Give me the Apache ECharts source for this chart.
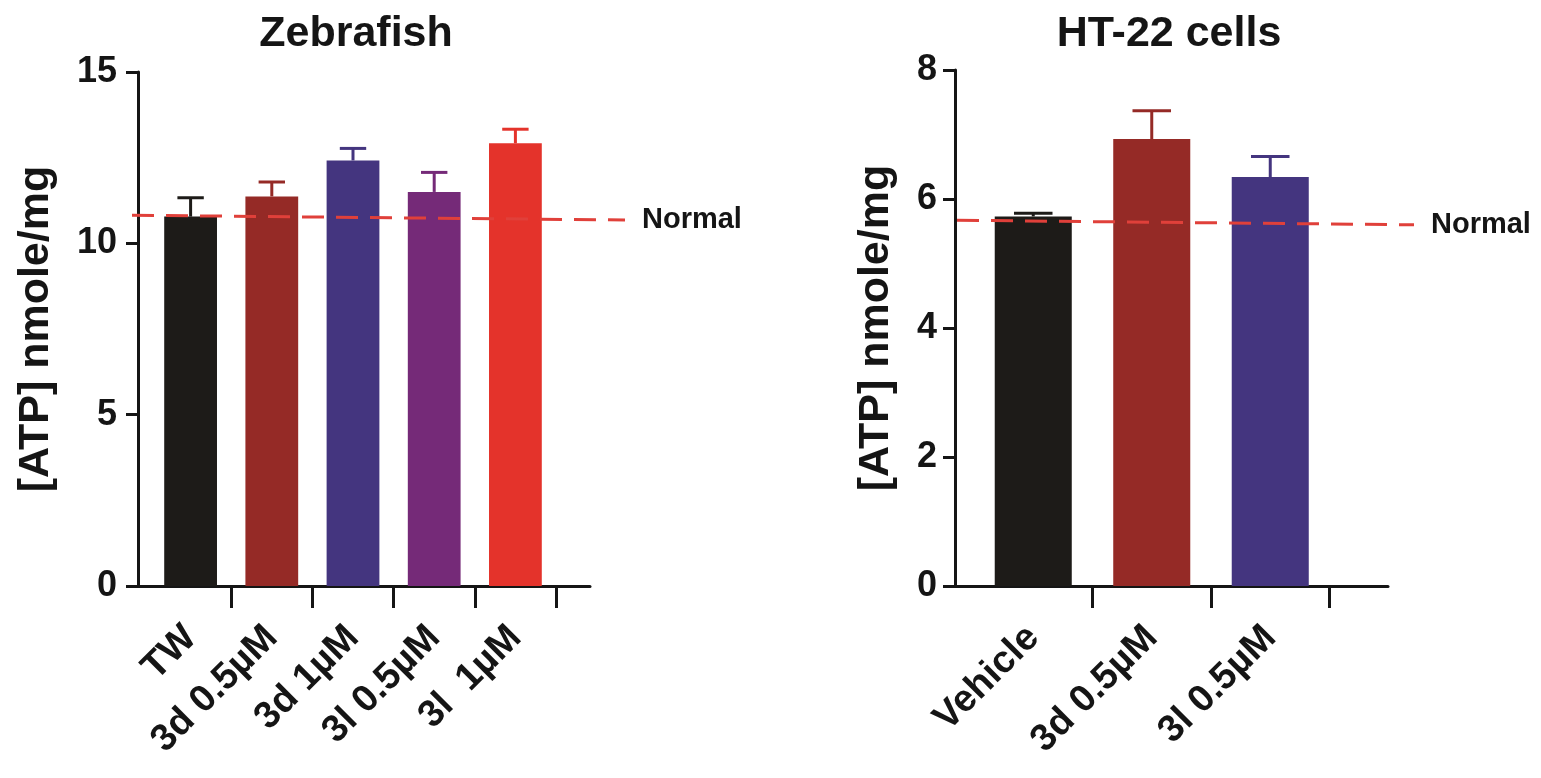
<!DOCTYPE html>
<html>
<head>
<meta charset="utf-8">
<script src="https://cdn.jsdelivr.net/npm/echarts@6/dist/echarts.min.js"></script>
<style>
html,body{margin:0;padding:0;background:#fff;}
#chart{width:1541px;height:778px;}
</style>
</head>
<body>
<div id="chart"></div>
<script>
// ---- data ----
const zfCategories = ['TW', '3d 0.5µM', '3d 1µM', '3l 0.5µM', '3l  1µM'];
const zfMeans = [10.78, 11.37, 12.42, 11.50, 12.92];
const zfSem = [0.55, 0.42, 0.35, 0.57, 0.41];
const zfNormal = [10.82, 10.68];
const zfTicks = [0, 5, 10, 15];

const htCategories = ['Vehicle', '3d 0.5µM', '3l 0.5µM'];
const htMeans = [5.73, 6.93, 6.34];
const htSem = [0.05, 0.44, 0.32];
const htNormal = [5.67, 5.60];
const htTicks = [0, 2, 4, 6, 8];

const zfColors = ['#1d1b18', '#952a26', '#44357f', '#752a78', '#e4332b'];
const htColors = ['#1d1b18', '#952a26', '#44357f'];

const FONT = '"Liberation Sans", Arial, Helvetica, sans-serif';
const INK = '#151515';
const NORMAL_RED = '#e0403a';

function errRender(params, api) {
  const x = api.value(0), m = api.value(1), e = api.value(2);
  const p0 = api.coord([x, m]);
  const p1 = api.coord([x, m + e]);
  const cap = api.size([1, 0])[0] * 0.65 * 0.5;
  const style = { stroke: api.visual('color'), lineWidth: 3 };
  return {
    type: 'group',
    children: [
      { type: 'line', shape: { x1: p0[0], y1: p0[1], x2: p1[0], y2: p1[1] }, style: style },
      { type: 'line', shape: { x1: p1[0] - cap / 2, y1: p1[1], x2: p1[0] + cap / 2, y2: p1[1] }, style: style }
    ]
  };
}

function panel(cfg) {
  const g0 = cfg.gridBase;
  const grids = [
    { left: cfg.catLeft, top: cfg.top, width: cfg.catWidth, height: cfg.height },
    { left: cfg.axisX, top: cfg.top, width: cfg.baseEnd - cfg.axisX, height: cfg.height },
    { left: cfg.normStart, top: cfg.top, width: cfg.normEnd - cfg.normStart, height: cfg.height }
  ];
  const xAxes = [
    {
      gridIndex: g0, type: 'category', data: cfg.categories,
      axisLine: { show: false },
      axisTick: { show: true, length: 22, interval: function (i) { return i > 0; }, lineStyle: { width: 3, color: INK } },
      axisLabel: { rotate: 45, margin: 46, fontSize: 38, fontWeight: 'bold', color: INK, fontFamily: FONT, interval: 0 },
      splitLine: { show: false }
    },
    {
      gridIndex: g0 + 1, type: 'value', min: 0, max: 1,
      axisLine: { show: true, lineStyle: { width: 3, color: INK } },
      axisTick: { show: false }, axisLabel: { show: false }, splitLine: { show: false }
    },
    { gridIndex: g0 + 2, type: 'value', min: 0, max: 1, show: false }
  ];
  const yMax = cfg.ticks[cfg.ticks.length - 1];
  const yInt = cfg.ticks[1] - cfg.ticks[0];
  const yAxes = [
    {
      gridIndex: g0, type: 'value', min: cfg.ticks[0], max: yMax, interval: yInt,
      offset: cfg.catLeft - cfg.axisX,
      axisLine: { show: true, lineStyle: { width: 3, color: INK } },
      axisTick: { show: true, length: 12, lineStyle: { width: 3, color: INK } },
      axisLabel: { fontSize: 36, fontWeight: 'bold', color: INK, fontFamily: FONT, margin: cfg.labelMargin },
      splitLine: { show: false },
      name: '[ATP] nmole/mg', nameLocation: 'middle', nameGap: cfg.nameGap,
      nameTextStyle: { fontSize: 43, fontWeight: 'bold', color: INK, fontFamily: FONT }
    },
    { gridIndex: g0 + 1, type: 'value', min: cfg.ticks[0], max: yMax, show: false },
    { gridIndex: g0 + 2, type: 'value', min: cfg.ticks[0], max: yMax, show: false }
  ];
  const series = [
    {
      type: 'bar', xAxisIndex: g0, yAxisIndex: g0, barWidth: '65%',
      data: cfg.means.map((v, i) => ({ value: v, itemStyle: { color: cfg.colors[i] } })),
      z: 2
    },
    {
      type: 'custom', xAxisIndex: g0, yAxisIndex: g0, renderItem: errRender,
      data: cfg.means.map((v, i) => ({ value: [i, v, cfg.sem[i]], itemStyle: { color: cfg.colors[i] } })),
      encode: { x: 0, y: 1 }, z: 3
    },
    {
      type: 'line', xAxisIndex: g0 + 2, yAxisIndex: g0 + 2,
      data: [[0, cfg.normal[0]], [1, cfg.normal[1]]],
      symbol: 'none', z: 5, silent: true,
      lineStyle: { color: NORMAL_RED, width: 3, type: [22, 12] },
      endLabel: { show: true, formatter: 'Normal', distance: 17, fontSize: 29, fontWeight: 'bold', color: INK, fontFamily: FONT }
    }
  ];
  return { grids, xAxes, yAxes, series };
}

const left = panel({
  gridBase: 0, categories: zfCategories, means: zfMeans, sem: zfSem, normal: zfNormal,
  ticks: zfTicks, colors: zfColors,
  catLeft: 150, catWidth: 406, top: 72, height: 514, axisX: 138, baseEnd: 590,
  normStart: 132, normEnd: 625, nameGap: 80, labelMargin: 21
});
const right = panel({
  gridBase: 3, categories: htCategories, means: htMeans, sem: htSem, normal: htNormal,
  ticks: htTicks, colors: htColors,
  catLeft: 974, catWidth: 355.5, top: 70, height: 516, axisX: 955, baseEnd: 1388,
  normStart: 957, normEnd: 1414, nameGap: 57, labelMargin: 18
});

const option = {
  backgroundColor: '#fff',
  animation: false,
  title: [
    { text: 'Zebrafish', left: 351, top: 8, textAlign: 'center', textStyle: { fontSize: 43, fontWeight: 'bold', color: INK, fontFamily: FONT } },
    { text: 'HT-22 cells', left: 1164, top: 8, textAlign: 'center', textStyle: { fontSize: 43, fontWeight: 'bold', color: INK, fontFamily: FONT } }
  ],
  grid: left.grids.concat(right.grids).map(g => Object.assign({ outerBoundsMode: 'none', containLabel: false }, g)),
  xAxis: left.xAxes.concat(right.xAxes),
  yAxis: left.yAxes.concat(right.yAxes),
  series: left.series.concat(right.series)
};

const chart = echarts.init(document.getElementById('chart'), null, { renderer: 'canvas' });
chart.setOption(option);
</script>
</body>
</html>
